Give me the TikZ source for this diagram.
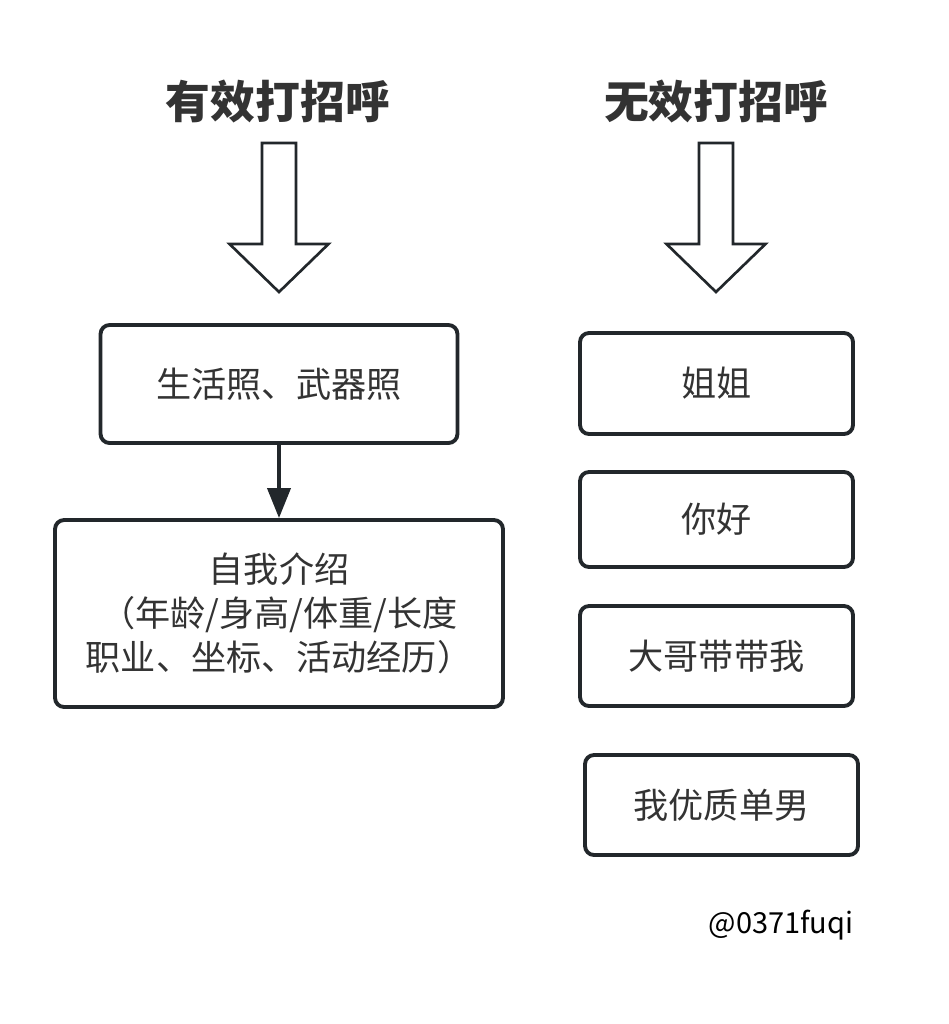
\documentclass[tikz,border=0pt]{standalone}
\usepackage{fontspec}
\setmainfont{Noto Sans CJK SC}
\usetikzlibrary{arrows.meta}
\definecolor{txt}{HTML}{333333}
\definecolor{edge}{HTML}{22272B}
\tikzset{
	pics/bigdown/.style={
		code = {
			\draw[draw=edge, line width=1.5pt, fill=white, line join=miter] (-17, 0) -- (17, 0) -- (17, 101) -- (49.5, 101) -- (0, 149) -- (-49.5, 101) -- (-17, 101) -- cycle;
		}
	}
}

\begin{document}
\begin{tikzpicture}[x=0.02cm, y=-0.02cm,
	box/.style={draw=edge, line width=2.2pt, rounded corners=0.18cm, inner sep=0pt, align=center, text=txt, font=\fontsize{20}{25}\selectfont},
	title/.style={text=txt, inner sep=0pt, font=\fontsize{25.5}{30}\selectfont\bfseries},
	line/.style={draw=edge, line width=2.2pt, -{Triangle[width=0.46cm, length=0.6cm]}}]
	\fill[white] (0, 0) rectangle (948, 1024);

	% --- effective ---
	\node[title] (goodtitle) at (278, 101) {有效打招呼};
	\pic at (279, 143) {bigdown};
	\node[box, minimum width=7.14cm, minimum height=2.36cm] (photo) at (279, 384) {生活照、武器照};
	\node[box, minimum width=8.96cm, minimum height=3.74cm] (intro) at (279, 613.5) {自我介绍\\（年龄/身高/体重/长度\\职业、坐标、活动经历）};
	\draw[line] (photo) -- (intro);

	% --- useless ---
	\node[title] (badtitle) at (716, 101) {无效打招呼};
	\pic at (716, 143) {bigdown};
	\node[box, minimum width=5.46cm, minimum height=2.02cm] (sister) at (716.5, 383.5) {姐姐};
	\node[box, minimum width=5.46cm, minimum height=1.90cm] (hello) at (716.5, 519.5) {你好};
	\node[box, minimum width=5.46cm, minimum height=2.00cm] (bro) at (716.5, 656) {大哥带带我};
	\node[box, minimum width=5.46cm, minimum height=2.00cm] (single) at (721.5, 805) {我优质单男};

	\node[text=black, inner sep=0pt, font=\fontsize{16.5}{20}\selectfont] (mark) at (781, 925) {@0371fuqi};
\end{tikzpicture}
\end{document}
